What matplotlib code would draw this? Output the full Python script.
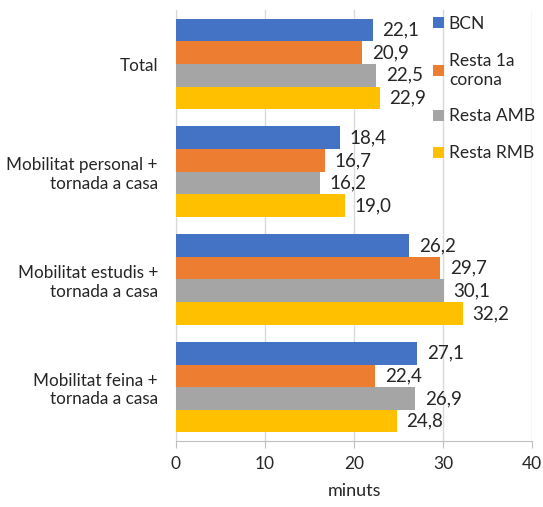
import numpy as np
import matplotlib.pyplot as plt

plt.rcParams['font.family'] = ['Lato', 'DejaVu Sans']

categories = ['Total', 'Mobilitat personal +\ntornada a casa',
              'Mobilitat estudis +\ntornada a casa', 'Mobilitat feina +\ntornada a casa']
series = ['BCN', 'Resta 1a\ncorona', 'Resta AMB', 'Resta RMB']
bcn = [22.1, 18.4, 26.2, 27.1]
corona = [20.9, 16.7, 29.7, 22.4]
amb = [22.5, 16.2, 30.1, 26.9]
rmb = [22.9, 19.0, 32.2, 24.8]
colors = ['#4472C4', '#ED7D31', '#A5A5A5', '#FFC000']

values = [bcn, corona, amb, rmb]

fig = plt.figure(figsize=(5.43, 5.07), dpi=100)
ax = fig.add_axes([0.324, 0.130, 0.656, 0.850])

y = np.arange(len(categories))
h = 0.21
for i, (vals, col, lab) in enumerate(zip(values, colors, series)):
    pos = y - 1.5 * h + i * h
    bars = ax.barh(pos, vals, height=h, color=col, label=lab, zorder=3)
    for b, v in zip(bars, vals):
        ax.annotate(f'{v:.1f}'.replace('.', ','), (v, b.get_y() + h / 2),
                    xytext=(7, 0), textcoords='offset points',
                    va='center', ha='left', fontsize=13.5, color='#262626')

ax.set_ylim(len(categories) - 0.5, -0.5)
ax.set_xlim(0, 40)
ax.set_xticks([0, 10, 20, 30, 40])
ax.set_yticks(y)
ax.set_yticklabels(categories, fontsize=12.3, color='#262626')
ax.tick_params(axis='y', length=0, pad=13)
ax.tick_params(axis='x', labelsize=12.5, labelcolor='#262626', color='#bfbfbf',
               length=5, direction='out', pad=6)
ax.grid(axis='x', color='#d9d9d9', linewidth=1, zorder=0)
for s in ['top', 'right']:
    ax.spines[s].set_visible(False)
ax.spines['left'].set_color('#d9d9d9')
ax.spines['bottom'].set_color('#bfbfbf')
ax.set_xlabel('minuts', fontsize=13, color='#262626', labelpad=8)

leg = fig.legend(loc='upper left', bbox_to_anchor=(0.785, 0.982), frameon=False,
                 fontsize=12.5, handlelength=0.6, handleheight=0.6, handletextpad=0.3,
                 labelspacing=1.2, borderaxespad=0, labelcolor='#262626')

fig.savefig('out.png', dpi=100)
